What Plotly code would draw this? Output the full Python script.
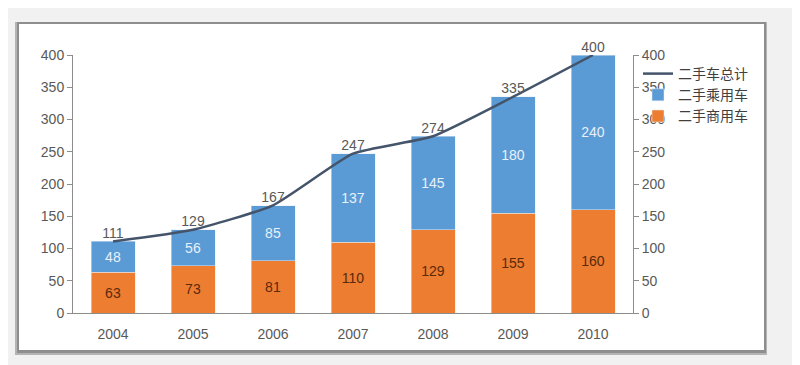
import plotly.graph_objects as go

years = ["2004", "2005", "2006", "2007", "2008", "2009", "2010"]
commercial = [63, 73, 81, 110, 129, 155, 160]
passenger = [48, 56, 85, 137, 145, 180, 240]
total = [111, 129, 167, 247, 274, 335, 400]
tick_vals = [0, 50, 100, 150, 200, 250, 300, 350, 400]

OFF = 8  # page body margin
W, H = 800, 365
L = 73 - OFF
T = 55 - OFF
B = H - (313 - OFF)
R = W - (633 - OFF)
pw, ph = W - L - R, H - T - B


def px(x):
    return (x - OFF - L) / pw


def py(y):
    return (H - B - (y - OFF)) / ph


num_font = "Liberation Sans Narrow, Arial Narrow, Liberation Sans, sans-serif"
cjk_font = "Noto Sans CJK SC, sans-serif"

fig = go.Figure()
fig.add_trace(go.Bar(
    x=years, y=commercial, name="二手商用车", marker_color="#ed7d31",
    text=commercial, textposition="inside", insidetextanchor="middle",
    textfont=dict(color="#5a2a0a", size=14, family=num_font),
    legendrank=3,
))
fig.add_trace(go.Bar(
    x=years, y=passenger, name="二手乘用车", marker_color="#5b9bd5",
    text=passenger, textposition="inside", insidetextanchor="middle",
    textfont=dict(color="#e8f0fa", size=14, family=num_font),
    legendrank=2,
))
fig.add_trace(go.Scatter(
    x=years, y=total, name="二手车总计", mode="lines+text",
    line=dict(color="#44546a", width=2.5, shape="spline", smoothing=0.5),
    text=total, textposition="top center",
    textfont=dict(color="#595959", size=14, family=num_font),
    legendrank=1, cliponaxis=False,
))
fig.add_trace(go.Scatter(
    x=years, y=total, yaxis="y2", mode="lines", line=dict(width=0),
    showlegend=False, hoverinfo="skip", opacity=0,
))

axis_common = dict(
    range=[0, 400], tickvals=tick_vals, showgrid=False, zeroline=False,
    showline=True, linecolor="#8c8c8c", linewidth=1,
    ticks="outside", ticklen=5, tickcolor="#8c8c8c",
    tickfont=dict(size=14, color="#595959", family=num_font),
)

fig.update_layout(
    width=W, height=H,
    margin=dict(l=L, r=R, t=T, b=B, autoexpand=False),
    paper_bgcolor="#f1f1f1", plot_bgcolor="rgba(0,0,0,0)",
    barmode="stack", bargap=0.45,
    xaxis=dict(showline=True, linecolor="#8c8c8c", showgrid=False, ticks="",
               ticklabelstandoff=8,
               tickfont=dict(size=14, color="#595959", family=num_font)),
    yaxis=dict(**axis_common, side="left"),
    yaxis2=dict(**axis_common, side="right", overlaying="y"),
    legend=dict(x=px(638), y=py(58), xanchor="left", yanchor="top",
                traceorder="normal",
                bgcolor="rgba(0,0,0,0)", tracegroupgap=0, itemwidth=30,
                font=dict(size=14, color="#404040", family=cjk_font)),
    showlegend=True,
    shapes=[
        dict(type="rect", xref="paper", yref="paper", layer="below",
             x0=px(15), x1=px(767), y0=py(355), y1=py(22),
             fillcolor="#b4b4b4", line=dict(width=0)),
        dict(type="rect", xref="paper", yref="paper", layer="below",
             x0=px(17), x1=px(766), y0=py(353), y1=py(22),
             fillcolor="#8e8e8e", line=dict(width=0)),
        dict(type="rect", xref="paper", yref="paper", layer="below",
             x0=px(19), x1=px(764), y0=py(350), y1=py(24),
             fillcolor="#ffffff", line=dict(width=0)),
    ],
)

fig.write_html("out.html")
